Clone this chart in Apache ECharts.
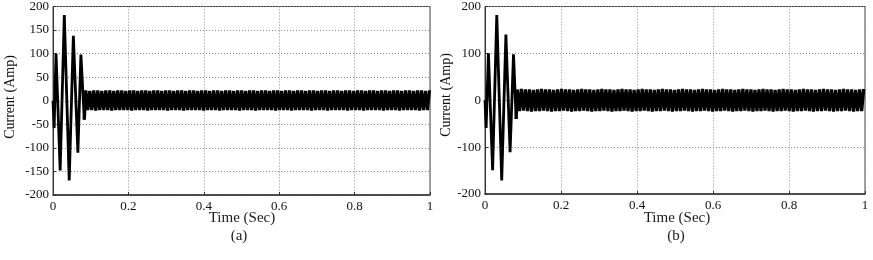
<!DOCTYPE html>
<head>
    <meta charset="utf-8">
    <title>Current</title>
    <script src="https://cdn.jsdelivr.net/npm/echarts@6/dist/echarts.min.js"></script>
    <style>
      body { margin:0; background:#fff; }
      #main { width:873px; height:260px; }
    </style>
</head>
<body>
<div id="main"></div>
<script type="text/javascript">
// ---- data ----
var xTicks = [0, 0.2, 0.4, 0.6, 0.8, 1];
var yTicksA = [-200, -150, -100, -50, 0, 50, 100, 150, 200];
var yTicksB = [-200, -100, 0, 100, 200];

// (a) start-up transient, turning points
var timeA = [0, 0.003, 0.008, 0.019, 0.030, 0.043, 0.054, 0.066, 0.074, 0.083];
var currA = [0, -58, 100, -148, 182, -169, 138, -110, 98, -40];
// (a) steady state, peaks and troughs every half ripple
var bandStartA = 0.087;
var bandA = [
  22,-20,21,-20,22,-21,22,-20,21,-20,22,-20,22,-21,21,-20,22,-20,22,-20,
  21,-20,22,-21,22,-20,21,-20,22,-20,22,-21,21,-20,22,-20,22,-20,21,-20,
  22,-21,22,-20,21,-20,22,-20,22,-21,21,-20,22,-20,22,-20,21,-20,22,-21,
  22,-20,21,-20,22,-20,22,-21,21,-20,22,-20,22,-20,21,-20,22,-21,22,-20,
  21,-20,22,-20,22,-21,21,-20,22,-20,22,-20,21,-20,22,-21,22,-20,21,-20,
  22,-20,22,-21,21,-20,22,-20,22,-20,21,-20,22,-21,22,-20,21,-20,22,-20,
  22,-21,21,-20,22,-20,22,-20,21,-20,22,-21,22,-20,21,-20,22,-20,22,-21,
  21,-20,22,-20,22,-20,21,-20,22,-21,22,-20,21,-20,22,-20,22,-21,21,-20,
  22,-20,22,-20,21,-20,22,-21,22,-20,21,-20,22
];

// (b) start-up transient, turning points
var timeB = [0, 0.003, 0.009, 0.020, 0.031, 0.044, 0.055, 0.066, 0.075, 0.082];
var currB = [0, -59, 100, -149, 182, -171, 140, -111, 98, -40];
var bandStartB = 0.085;
var bandB = [
  23,-23,24,-22,23,-23,23,-24,22,-23,23,-23,24,-22,23,-23,23,-24,22,-23,
  23,-23,24,-22,23,-23,23,-24,22,-23,23,-23,24,-22,23,-23,23,-24,22,-23,
  23,-23,24,-22,23,-23,23,-24,22,-23,23,-23,24,-22,23,-23,23,-24,22,-23,
  23,-23,24,-22,23,-23,23,-24,22,-23,23,-23,24,-22,23,-23,23,-24,22,-23,
  23,-23,24,-22,23,-23,23,-24,22,-23,23,-23,24,-22,23,-23,23,-24,22,-23,
  23,-23,24,-22,23,-23,23,-24,22,-23,23,-23,24,-22,23,-23,23,-24,22,-23,
  23,-23,24,-22,23,-23,23,-24,22,-23,23,-23,24,-22,23,-23,23,-24,22,-23,
  23,-23,24,-22,23,-23,23,-24,22,-23,23,-23,24,-22,23,-23,23,-24,22,-23,
  23,-23,24,-22,23,-23,23,-24,22,-23,23,-23,24
];
var bandStep = 0.0053;

var serif = "'Liberation Serif','Times New Roman',serif";

function pairs(ts, vs) {
  var out = [];
  for (var i = 0; i < ts.length; i++) out.push([ts[i], vs[i]]);
  return out;
}
function bandPairs(lastT, lastV, start, band) {
  var out = [[lastT, lastV]];
  for (var j = 0; j < band.length; j++) out.push([start + j * bandStep, band[j]]);
  return out;
}

function xAxisCfg(idx) {
  return {
    type: 'value', gridIndex: idx, min: 0, max: 1, interval: 0.2,
    axisLine: { show: true, onZero: false, lineStyle: { color: '#333', width: 1.5 } },
    axisTick: { show: true, inside: true, length: 3, lineStyle: { color: '#333' } },
    axisLabel: { color: '#111', fontFamily: serif, fontSize: 13, margin: 5,
                 formatter: function (v) { return xTicks.indexOf(+v.toFixed(1)) >= 0 ? String(+v.toFixed(1)) : ''; } },
    splitLine: { show: true, lineStyle: { color: '#8a8a8a', type: [1, 2], width: 1 } }
  };
}
function yAxisCfg(idx, ticks) {
  return {
    type: 'value', gridIndex: idx, min: ticks[0], max: ticks[ticks.length - 1],
    interval: ticks[1] - ticks[0],
    axisLine: { show: true, onZero: false, lineStyle: { color: '#333', width: 1 } },
    axisTick: { show: true, inside: true, length: 3, lineStyle: { color: '#333' } },
    axisLabel: { color: '#111', fontFamily: serif, fontSize: 13, margin: 4 },
    splitLine: { show: true, lineStyle: { color: '#8a8a8a', type: [1, 2], width: 1 } }
  };
}

var myChart = echarts.init(document.getElementById('main'));
var option = {
  animation: false,
  backgroundColor: '#fff',
  grid: [
    { left: 53, top: 4, width: 377, height: 191, show: true, borderColor: '#444', borderWidth: 1, backgroundColor: 'transparent' },
    { left: 485, top: 4, width: 380, height: 190, show: true, borderColor: '#444', borderWidth: 1, backgroundColor: 'transparent' }
  ],
  xAxis: [xAxisCfg(0), xAxisCfg(1)],
  yAxis: [yAxisCfg(0, yTicksA), yAxisCfg(1, yTicksB)],
  series: [
    { type: 'line', xAxisIndex: 0, yAxisIndex: 0, showSymbol: false, sampling: null,
      lineStyle: { color: '#000', width: 2.8 }, data: pairs(timeA, currA) },
    { type: 'line', xAxisIndex: 0, yAxisIndex: 0, showSymbol: false, sampling: null,
      lineStyle: { color: '#000', width: 3.2 },
      data: bandPairs(timeA[timeA.length - 1], currA[currA.length - 1], bandStartA, bandA) },
    { type: 'line', xAxisIndex: 1, yAxisIndex: 1, showSymbol: false, sampling: null,
      lineStyle: { color: '#000', width: 2.8 }, data: pairs(timeB, currB) },
    { type: 'line', xAxisIndex: 1, yAxisIndex: 1, showSymbol: false, sampling: null,
      lineStyle: { color: '#000', width: 3.2 },
      data: bandPairs(timeB[timeB.length - 1], currB[currB.length - 1], bandStartB, bandB) }
  ],
  graphic: [
    { type: 'text', x: 10, y: 97, rotation: Math.PI / 2,
      style: { text: 'Current (Amp)', font: '14px ' + serif, fill: '#111', textAlign: 'center', textVerticalAlign: 'middle' } },
    { type: 'text', x: 446, y: 95, rotation: Math.PI / 2,
      style: { text: 'Current (Amp)', font: '14px ' + serif, fill: '#111', textAlign: 'center', textVerticalAlign: 'middle' } },
    { type: 'text', x: 242, y: 218,
      style: { text: 'Time (Sec)', font: '15px ' + serif, fill: '#1a1a2a', textAlign: 'center', textVerticalAlign: 'middle' } },
    { type: 'text', x: 239, y: 236,
      style: { text: '(a)', font: '15px ' + serif, fill: '#1a1a2a', textAlign: 'center', textVerticalAlign: 'middle' } },
    { type: 'text', x: 677, y: 218,
      style: { text: 'Time (Sec)', font: '15px ' + serif, fill: '#1a1a2a', textAlign: 'center', textVerticalAlign: 'middle' } },
    { type: 'text', x: 676, y: 236,
      style: { text: '(b)', font: '15px ' + serif, fill: '#1a1a2a', textAlign: 'center', textVerticalAlign: 'middle' } }
  ]
};
myChart.setOption(option);
</script>
</body>
